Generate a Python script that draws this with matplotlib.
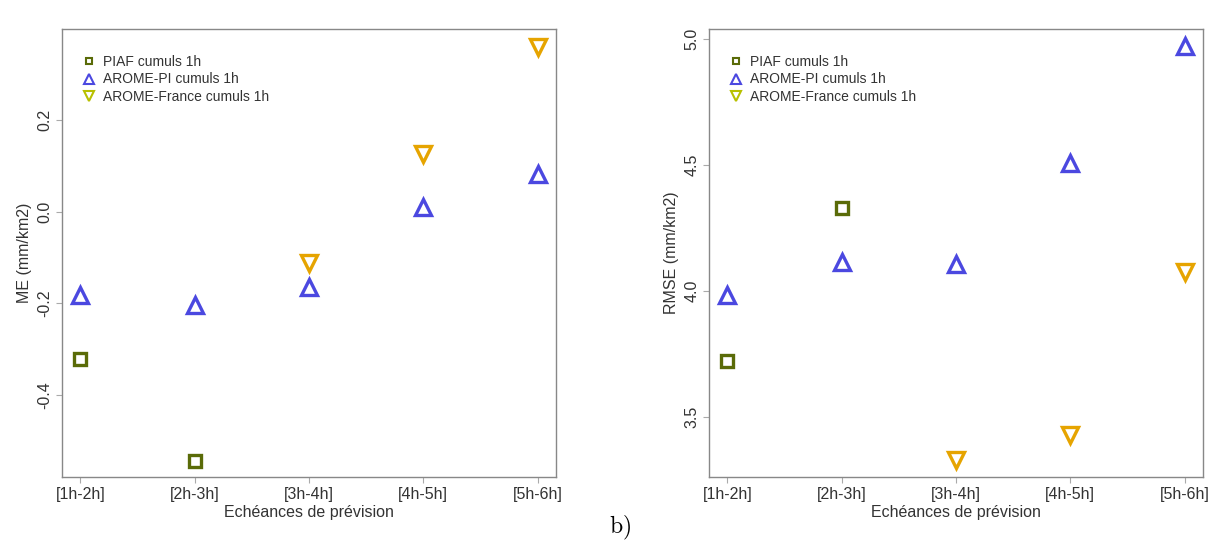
import matplotlib
matplotlib.use("Agg")
import matplotlib.pyplot as plt
from matplotlib.lines import Line2D
import numpy as np

plt.rcParams['font.family'] = ['Liberation Sans', 'DejaVu Sans']
plt.rcParams['mathtext.fontset'] = 'cm'

# forecast ranges
echeances = ['[1h-2h]', '[2h-3h]', '[3h-4h]', '[4h-5h]', '[5h-6h]']

# mean error (mm/km2)
me_piaf = [-0.321, -0.544, np.nan, np.nan, np.nan]
me_pi = [-0.181, -0.203, -0.164, 0.011, 0.083]
me_france = [np.nan, np.nan, -0.112, 0.127, 0.361]

# root mean square error (mm/km2)
rmse_piaf = [3.723, 4.328, np.nan, np.nan, np.nan]
rmse_pi = [3.984, 4.115, 4.107, 4.510, 4.972]
rmse_france = [np.nan, np.nan, 3.328, 3.427, 4.075]

series_names = ['PIAF cumuls 1h', 'AROME-PI cumuls 1h', 'AROME-France cumuls 1h']
c_piaf = '#5a6b08'
c_pi = '#4b48e0'
c_france = '#e6a400'
c_france_leg = '#b8c000'

fig = plt.figure(figsize=(12.14, 5.46), dpi=100)
ax1 = fig.add_axes([62/1214, 69/546, 494/1214, 448/546])
ax2 = fig.add_axes([709/1214, 69/546, 494/1214, 448/546])

x = np.arange(1, len(echeances) + 1)


def draw(ax, piaf, pi, france, ylabel, yticks, ylim):
    ax.plot(x, piaf, ls='none', marker='s', ms=9, mfc='none', mec=c_piaf, mew=2.4)
    ax.plot(x, pi, ls='none', marker='^', ms=12, mfc='none', mec=c_pi, mew=2.4)
    ax.plot(x, france, ls='none', marker='v', ms=12, mfc='none', mec=c_france, mew=2.4)
    ax.set_xlim(0.84, 5.16)
    ax.set_ylim(*ylim)
    ax.set_xticks(x)
    ax.set_xticklabels(echeances, fontsize=11.5, color='#333333')
    ax.set_yticks(yticks)
    ax.set_yticklabels(['%.1f' % v for v in yticks], rotation=90, va='center',
                       fontsize=11.5, color='#333333')
    ax.tick_params(axis='both', length=4, width=0.8, color='#aaaaaa', pad=3)
    for s in ax.spines.values():
        s.set_color('#888888')
        s.set_linewidth(1.0)
    ax.set_xlabel('Echéances de prévision', fontsize=11.5, color='#333333', labelpad=2)
    ax.set_ylabel(ylabel, fontsize=11.5, color='#333333', labelpad=4)

    handles = [
        Line2D([], [], ls='none', marker='s', ms=5, mfc='none', mec=c_piaf, mew=1.5),
        Line2D([], [], ls='none', marker='^', ms=7, mfc='none', mec=c_pi, mew=1.5),
        Line2D([], [], ls='none', marker='v', ms=7, mfc='none', mec=c_france_leg, mew=1.5),
    ]
    ax.legend(handles, series_names, loc='upper left', bbox_to_anchor=(0.04, 0.942),
              frameon=False, fontsize=10, handlelength=1.0, handletextpad=0.5,
              labelspacing=0.25, borderpad=0, borderaxespad=0, labelcolor='#333333')


draw(ax1, me_piaf, me_pi, me_france, 'ME (mm/km2)', [-0.4, -0.2, 0.0, 0.2], (-0.580, 0.400))
draw(ax2, rmse_piaf, rmse_pi, rmse_france, 'RMSE (mm/km2)', [3.5, 4.0, 4.5, 5.0], (3.262, 5.040))

fig.text(620/1214, 1 - 528/546, r'$\mathrm{b)}$', ha='center', va='center', fontsize=17)

fig.savefig('out.png', dpi=100)
